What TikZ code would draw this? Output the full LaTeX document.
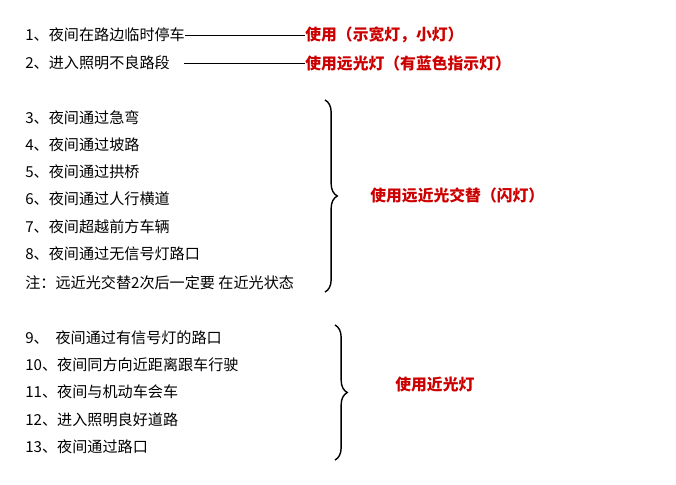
\documentclass[tikz,border=0pt]{standalone}
\usepackage{fontspec}
\newfontfamily\cjk{Noto Sans CJK SC}
\usetikzlibrary{decorations.pathreplacing}
\tikzset{item/.style={anchor=west,inner sep=0pt,font=\cjk\fontsize{8.6}{10}\selectfont},
  note/.style={anchor=west,inner sep=0pt,text=red!80!black,font=\cjk\bfseries\fontsize{9}{10}\selectfont},
  curly/.style={decorate,decoration={brace,amplitude=7pt},thick}}
\begin{document}
\begin{tikzpicture}[x=0.02cm,y=-0.02cm]
				\useasboundingbox (0,0) rectangle (676,484);
				\node[item] (a1) at (25,35) {1、夜间在路边临时停车};
				\node[item] (a2) at (25,63) {2、进入照明不良路段};
				\node[note] (u1) at (305,35) {使用（示宽灯，小灯）};
				\node[note] (u2) at (305,63) {使用远光灯（有蓝色指示灯）};
				\draw (a1.east) -- (u1.west);
				\draw ([xshift=8pt]a2.east) -- (u2.west);
				\node[item] (b3) at (25,118) {3、夜间通过急弯};
				\node[item] (b4) at (25,145) {4、夜间通过坡路};
				\node[item] (b5) at (25,172) {5、夜间通过拱桥};
				\node[item] (b6) at (25,199) {6、夜间通过人行横道};
				\node[item] (b7) at (25,227) {7、夜间超越前方车辆};
				\node[item] (b8) at (25,254) {8、夜间通过无信号灯路口};
				\node[item] (b9) at (25,283) {注：远近光交替2次后一定要\ 在近光状态};
				\coordinate (t1) at (325,100);
				\coordinate (t2) at (325,292);
				\draw[curly] (t1) -- (t2);
				\node[note] (u3) at (370,195) {使用远近光交替（闪灯）};
				\node[item] (c9) at (25,338) {9、\ \ 夜间通过有信号灯的路口};
				\node[item] (c10) at (25,365) {10、夜间同方向近距离跟车行驶};
				\node[item] (c11) at (25,392) {11、夜间与机动车会车};
				\node[item] (c12) at (25,420) {12、进入照明良好道路};
				\node[item] (c13) at (25,447) {13、夜间通过路口};
				\coordinate (s1) at (335,325);
				\coordinate (s2) at (335,460);
				\draw[curly] (s1) -- (s2);
				\node[note] (u4) at (395,385) {使用近光灯};
			\end{tikzpicture}
\end{document}
